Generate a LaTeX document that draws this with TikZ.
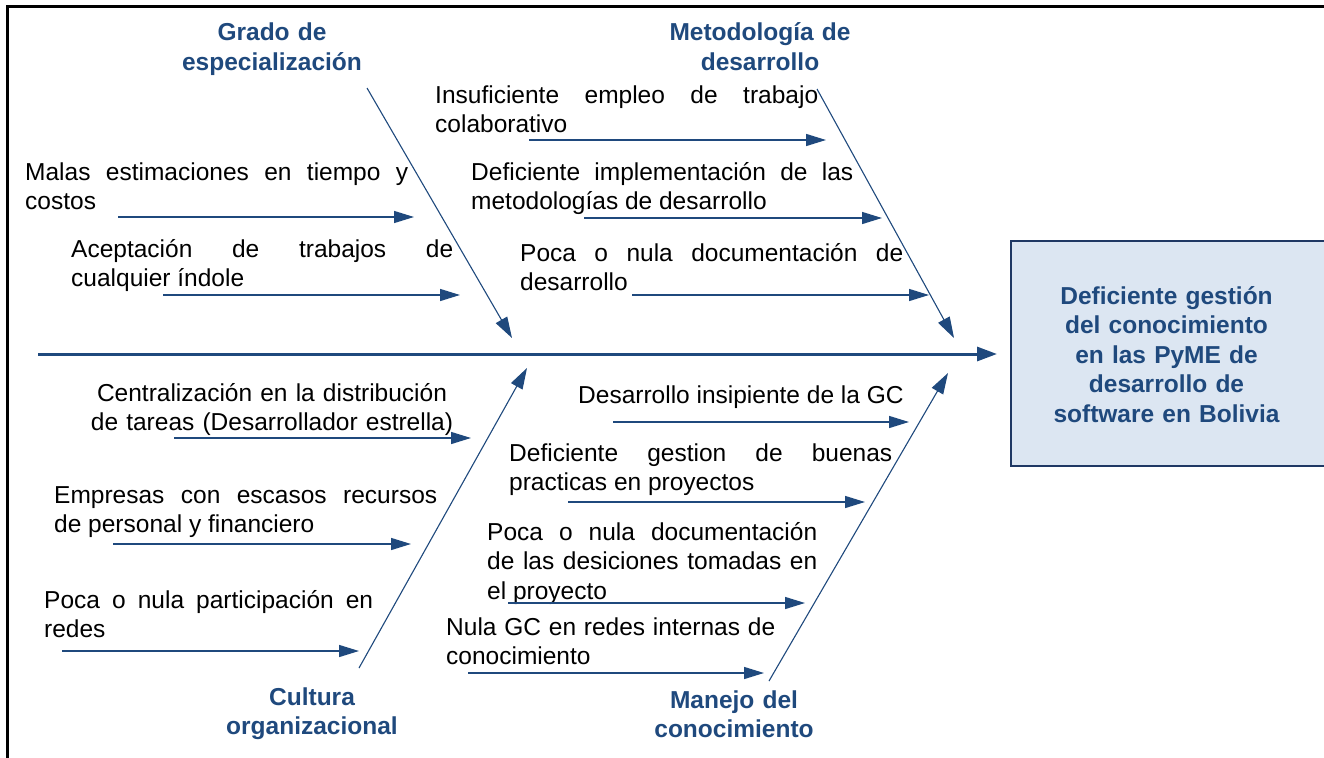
\documentclass[tikz,border=0pt]{standalone}
\usepackage{fontspec}
\setmainfont{Liberation Sans}
\usetikzlibrary{arrows.meta}
\definecolor{fbblue}{HTML}{1F497D}
\definecolor{fbfill}{HTML}{DCE6F2}
\definecolor{fbborder}{HTML}{1F3864}
\newcommand\fbcausefont{\fontsize{24.5}{29.5}\selectfont\tolerance=10000\hyphenpenalty=10000\relax}
\newcommand\fbtitlefont{\fontsize{24.5}{29.5}\selectfont\bfseries}
\tikzset{
  cause/.style={anchor=base west, inner sep=0pt, align=justify, font=\fbcausefont},
  causec/.style={anchor=base, inner sep=0pt, align=center, text width=420pt, font=\fbcausefont},
  cattitle/.style={anchor=base, inner sep=0pt, align=center, text width=320pt, font=\fbtitlefont, text=fbblue},
  subarrow/.style={draw=fbblue, line width=1.4pt, -{Triangle[length=20pt,width=12pt]}},
  bonearrow/.style={draw=fbblue, line width=1.1pt, -{Triangle[length=21pt,width=13pt]}},
  spinearrow/.style={draw=fbblue, line width=3pt, -{Triangle[length=20pt,width=14pt]}},
  effectbox/.style={draw=fbborder, line width=2pt, fill=fbfill, minimum width=400pt, minimum height=225pt,
    inner sep=0pt},
  effecttext/.style={inner sep=0pt, text=fbblue, font=\fbtitlefont, align=center, text width=311pt}
}
\begin{document}
\begin{tikzpicture}[x=1pt,y=-1pt]
\useasboundingbox (0,0) rectangle (1324,757);
\clip (0,0) rectangle (1324,757);
% frame
\draw[line width=2.5pt] (7.5,760) -- (7.5,6.5) -- (1330,6.5);

% effect box (runs past the right edge)
\node[effectbox] (effect) at (1211,353.5) {};
\node[effecttext] (effecttxt) at (1166.5,354.5) {Deficiente gestión\\del conocimiento\\en las PyME de\\desarrollo de\\software en Bolivia};

% spine
\coordinate (s0) at (38,354);
\coordinate (s1) at (997,354);
\draw[spinearrow] (s0) -- (s1);

% category titles
\node[cattitle] (grado) at (272,41) {Grado de\\especialización};
\node[cattitle] (metod) at (760,41) {Metodología de\\desarrollo};
\node[cattitle] (cultura) at (312,705) {Cultura\\organizacional};
\node[cattitle] (manejo) at (734,708) {Manejo del\\conocimiento};

% main bones
\coordinate (g0) at (367,88);  \coordinate (g1) at (512,338);
\coordinate (m0) at (817,89);  \coordinate (m1) at (954,338);
\coordinate (c0) at (359,668); \coordinate (c1) at (527,368);
\coordinate (j0) at (769,681); \coordinate (j1) at (948,373);
\draw[bonearrow] (g0) -- (g1);
\draw[bonearrow] (m0) -- (m1);
\draw[bonearrow] (c0) -- (c1);
\draw[bonearrow] (j0) -- (j1);

% causes: Grado de especializacion
\node[cause, text width=383pt] (t1) at (25,180) {Malas estimaciones en tiempo y\linebreak costos};
\node[cause, text width=382pt] (t2) at (71,257) {Aceptación de trabajos de\linebreak cualquier índole};
\coordinate (a1s) at (118,217); \coordinate (a1e) at (414,217);
\coordinate (a2s) at (163,295); \coordinate (a2e) at (460,295);
\draw[subarrow] (a1s) -- (a1e);
\draw[subarrow] (a2s) -- (a2e);

% causes: Metodologia de desarrollo
\node[cause, text width=383pt] (t3) at (435,103) {Insuficiente empleo de trabajo\linebreak colaborativo};
\node[cause, text width=382pt] (t4) at (471,180) {Deficiente implementación de las\linebreak metodologías de desarrollo};
\node[cause, text width=383pt] (t5) at (520,261) {Poca o nula documentación de\linebreak desarrollo};
\coordinate (a3s) at (529,140); \coordinate (a3e) at (826,140);
\coordinate (a4s) at (584,218); \coordinate (a4e) at (882,218);
\coordinate (a5s) at (632,295); \coordinate (a5e) at (929,295);
\draw[subarrow] (a3s) -- (a3e);
\draw[subarrow] (a4s) -- (a4e);
\draw[subarrow] (a5s) -- (a5e);

% causes: Cultura organizacional
\node[causec] (t6) at (272,401) {Centralización en la distribución\\de tareas (Desarrollador estrella)};
\node[cause, text width=383pt] (t7) at (54,503) {Empresas con escasos recursos\linebreak de personal y financiero};
\node[cause, text width=329pt] (t8) at (44,608) {Poca o nula participación en\linebreak redes};
\coordinate (a6s) at (174,438); \coordinate (a6e) at (471,438);
\coordinate (a7s) at (113,544); \coordinate (a7e) at (411,544);
\coordinate (a8s) at (62,651);  \coordinate (a8e) at (359,651);
\draw[subarrow] (a6s) -- (a6e);
\draw[subarrow] (a7s) -- (a7e);
\draw[subarrow] (a8s) -- (a8e);

% causes: Manejo del conocimiento
\node[cause] (t9) at (578,403) {Desarrollo insipiente de la GC};
\node[cause, text width=383pt] (t10) at (509,461) {Deficiente gestion de buenas\linebreak practicas en proyectos};
\node[cause, text width=330pt] (t11) at (487,540) {Poca o nula documentación\linebreak de las desiciones tomadas en\linebreak el proyecto};
\node[cause, text width=329pt] (t12) at (446,635) {Nula GC en redes internas de\linebreak conocimiento};
\coordinate (a9s) at (613,422);  \coordinate (a9e) at (909,422);
\coordinate (a10s) at (568,502); \coordinate (a10e) at (865,502);
\coordinate (a11s) at (508,603); \coordinate (a11e) at (805,603);
\coordinate (a12s) at (468,673); \coordinate (a12e) at (764,673);
\draw[subarrow] (a9s) -- (a9e);
\draw[subarrow] (a10s) -- (a10e);
\draw[subarrow] (a11s) -- (a11e);
\draw[subarrow] (a12s) -- (a12e);
\end{tikzpicture}
\end{document}
